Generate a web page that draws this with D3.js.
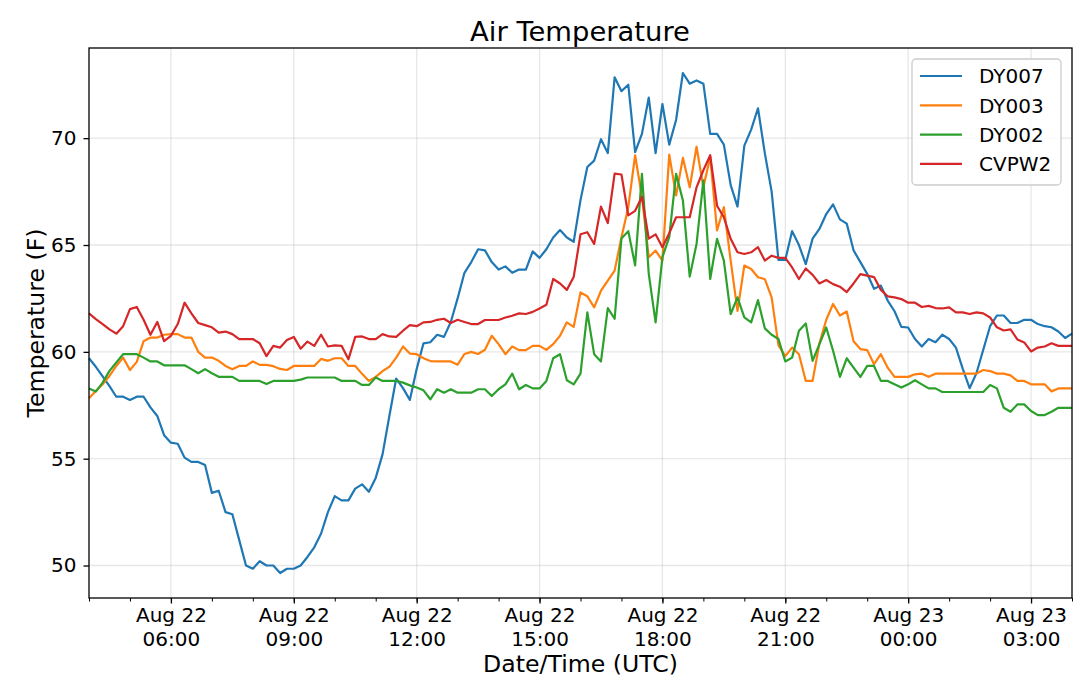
<!DOCTYPE html>
<html>
<head>
<meta charset="utf-8">
<script src="https://cdn.jsdelivr.net/npm/d3@7"></script>
<style>
  body { margin: 0; background: #fff; }
  text { font-family: "DejaVu Sans", sans-serif; fill: #000; }
</style>
</head>
<body>
<svg id="chart" width="1080" height="687"></svg>
<script>
// readings every 10 minutes, starting Aug 22 04:00 UTC
const startTime = Date.UTC(2019, 7, 22, 4, 0);
const stepMinutes = 10;

const stations = ["DY007", "DY003", "DY002", "CVPW2"];
const colors = ["#1f77b4", "#ff7f0e", "#2ca02c", "#d62728"];

const dy007 = [
  59.7, 59.3, 58.85, 58.4, 57.9, 57.9, 57.75, 57.9, 57.9, 57.4,
  57.0, 56.1, 55.75, 55.7, 55.05, 54.85, 54.85, 54.7, 53.4, 53.5,
  52.5, 52.4, 51.2, 50.0, 49.85, 50.2, 50.0, 50.0, 49.65, 49.85,
  49.85, 50.0, 50.4, 50.85, 51.5, 52.5, 53.25, 53.05, 53.05, 53.6,
  53.8, 53.45, 54.1, 55.2, 57.0, 58.75, 58.3, 57.75, 59.2, 60.4,
  60.45, 60.8, 60.7, 61.4, 62.5, 63.7, 64.2, 64.8, 64.75, 64.2,
  63.85, 64.0, 63.7, 63.85, 63.85, 64.7, 64.4, 64.8, 65.35, 65.7,
  65.35, 65.15, 67.1, 68.65, 68.95, 69.95, 69.3, 72.85, 72.2, 72.5,
  69.35, 70.2, 71.9, 69.3, 71.6, 69.7, 70.85, 73.05, 72.55, 72.7,
  72.55, 70.2, 70.2, 69.7, 67.8, 66.8, 69.65, 70.4, 71.4, 69.3,
  67.5, 64.3, 64.3, 65.65, 65.0, 64.1, 65.3, 65.75, 66.45, 66.9,
  66.2, 66.0, 64.75, 64.2, 63.65, 62.95, 63.1, 62.4, 61.9, 61.17,
  61.14, 60.6, 60.25, 60.6, 60.45, 60.8, 60.6, 60.2, 59.2, 58.3,
  59.0, 60.1, 61.2, 61.7, 61.7, 61.35, 61.35, 61.5, 61.5, 61.3,
  61.2, 61.15, 60.95, 60.65, 60.85
];

const dy003 = [
  57.83, 58.17, 58.48, 58.87, 59.34, 59.73, 59.15, 59.53, 60.5, 60.67,
  60.67, 60.8, 60.83, 60.83, 60.67, 60.67, 60.0, 59.73, 59.73, 59.58,
  59.34, 59.19, 59.34, 59.34, 59.55, 59.39, 59.39, 59.33, 59.2, 59.15,
  59.34, 59.34, 59.34, 59.34, 59.67, 59.58, 59.7, 59.7, 59.34, 59.34,
  58.97, 58.64, 58.83, 59.1, 59.3, 59.73, 60.25, 59.92, 59.89, 59.7,
  59.57, 59.55, 59.55, 59.55, 59.4, 59.9, 60.0, 59.9, 60.1, 60.75,
  60.36, 59.89, 60.25, 60.08, 60.08, 60.28, 60.28, 60.09, 60.36, 60.75,
  61.38, 61.17, 62.78, 62.6, 62.08, 62.86, 63.33, 63.8, 65.36, 66.77,
  69.2, 67.25, 64.43, 64.74, 64.27, 69.23, 67.32, 69.08, 67.7, 69.6,
  67.7, 69.12, 65.68, 66.77, 64.27, 61.92, 64.04, 63.88, 63.49, 63.4,
  62.55, 60.3, 59.8, 60.2, 59.89, 58.64, 58.64, 60.4, 61.5, 62.24,
  61.7, 61.89, 60.5, 60.13, 60.08, 59.42, 59.89, 59.26, 58.83, 58.83,
  58.83, 58.95, 58.98, 58.83, 58.98, 58.98, 58.98, 58.98, 58.98, 58.98,
  58.98, 59.15, 59.1, 58.98, 58.98, 58.9, 58.64, 58.64, 58.48, 58.48,
  58.48, 58.15, 58.29, 58.29, 58.29
];

const dy002 = [
  58.28, 58.14, 58.56, 59.11, 59.5, 59.89, 59.89, 59.89, 59.73, 59.55,
  59.55, 59.37, 59.37, 59.37, 59.37, 59.19, 59.0, 59.19, 59.0, 58.83,
  58.83, 58.83, 58.64, 58.64, 58.64, 58.64, 58.5, 58.64, 58.64, 58.64,
  58.64, 58.7, 58.8, 58.8, 58.8, 58.8, 58.8, 58.64, 58.64, 58.64,
  58.45, 58.45, 58.8, 58.64, 58.64, 58.64, 58.56, 58.43, 58.33, 58.2,
  57.78, 58.25, 58.09, 58.25, 58.09, 58.09, 58.09, 58.25, 58.25, 57.93,
  58.25, 58.48, 58.98, 58.25, 58.45, 58.29, 58.29, 58.64, 59.7, 59.89,
  58.67, 58.48, 58.98, 61.85, 59.89, 59.55, 62.05, 61.55, 65.3, 65.65,
  64.05, 68.33, 63.65, 61.38, 64.43, 65.37, 68.33, 67.08, 63.52, 65.05,
  68.03, 63.41, 65.29, 64.27, 61.77, 62.55, 61.61, 61.38, 62.42, 61.1,
  60.8, 60.6, 59.55, 59.73, 60.99, 61.33, 59.58, 60.36, 61.14, 60.05,
  58.83, 59.7, 59.26, 58.83, 59.34, 59.34, 58.64, 58.64, 58.48, 58.33,
  58.48, 58.67, 58.48, 58.29, 58.29, 58.12, 58.12, 58.12, 58.12, 58.12,
  58.12, 58.12, 58.45, 58.29, 57.38, 57.2, 57.54, 57.54, 57.23, 57.04,
  57.04, 57.2, 57.38, 57.38, 57.38
];

const cvpw2 = [
  61.8, 61.53, 61.3, 61.05, 60.85, 61.2, 62.0, 62.1, 61.5, 60.8,
  61.4, 60.5, 60.75, 61.3, 62.3, 61.8, 61.35, 61.25, 61.15, 60.9,
  60.95, 60.83, 60.6, 60.6, 60.6, 60.4, 59.8, 60.28, 60.2, 60.55,
  60.7, 60.15, 60.48, 60.28, 60.8, 60.25, 60.3, 60.28, 59.65, 60.7,
  60.72, 60.6, 60.6, 60.83, 60.72, 60.7, 60.99, 61.25, 61.2, 61.38,
  61.4, 61.5, 61.55, 61.35, 61.5, 61.4, 61.3, 61.3, 61.49, 61.49,
  61.49, 61.61, 61.69, 61.8, 61.77, 61.87, 62.03, 62.2, 63.41, 63.2,
  62.9, 63.5, 65.5, 65.6, 65.05, 66.8, 66.03, 68.34, 68.3, 66.39,
  66.6, 67.25, 65.3, 65.5, 64.9, 65.55, 66.3, 66.3, 66.3, 67.7,
  68.5, 69.2, 66.84, 66.3, 65.29, 64.66, 64.58, 64.66, 64.9, 64.27,
  64.5, 64.4, 64.4, 63.95, 63.41, 63.9, 63.6, 63.2, 63.36, 63.17,
  63.05, 62.8, 63.2, 63.64, 63.57, 63.5, 62.9, 62.6, 62.55, 62.47,
  62.3, 62.3, 62.1, 62.15, 62.05, 62.03, 62.08, 61.85, 61.85, 61.77,
  61.85, 61.8, 61.61, 61.15, 61.0, 61.05, 60.58, 60.44, 60.02, 60.2,
  60.25, 60.4, 60.28, 60.28, 60.28
];

const series = [dy007, dy003, dy002, cvpw2];
const yTicks = [50, 55, 60, 65, 70];

const svg = d3.select('#chart');
const margin = { left: 89, right: 1072, top: 48, bottom: 598 };

const times = dy007.map((_, i) => new Date(startTime + i * stepMinutes * 60000));

// x runs tight to the data, y gets matplotlib's 5% padding
const x = d3.scaleUtc()
  .domain(d3.extent(times))
  .range([margin.left, margin.right]);

const allValues = series.flat();
const lo = d3.min(allValues), hi = d3.max(allValues);
const pad = (hi - lo) * 0.05;
const y = d3.scaleLinear()
  .domain([lo - pad, hi + pad])
  .range([margin.bottom, margin.top]);

// grid
const grid = svg.append('g').attr('class', 'grid')
  .attr('stroke', '#b0b0b0').attr('stroke-opacity', 0.3).attr('stroke-width', 1.3);
grid.selectAll('.gy').data(yTicks).join('line')
  .attr('x1', margin.left).attr('x2', margin.right)
  .attr('y1', d => y(d)).attr('y2', d => y(d));
const majorTimes = x.ticks(d3.utcHour.every(3));
grid.selectAll('.gx').data(majorTimes).join('line')
  .attr('x1', d => x(d)).attr('x2', d => x(d))
  .attr('y1', margin.top).attr('y2', margin.bottom);

// lines
const line = d3.line()
  .x((d, i) => x(times[i]))
  .y(d => y(d));

svg.append('g').selectAll('path')
  .data(series)
  .join('path')
  .attr('fill', 'none')
  .attr('stroke', (d, i) => colors[i])
  .attr('stroke-width', 2.2)
  .attr('stroke-linejoin', 'round')
  .attr('d', line);

// axes
const xMinor = d3.axisBottom(x).ticks(d3.utcHour.every(1)).tickSize(3.5).tickFormat('');
svg.append('g')
  .attr('transform', `translate(0,${margin.bottom})`)
  .call(xMinor)
  .call(g => g.select('.domain').remove())
  .call(g => g.selectAll('line').attr('stroke', '#000').attr('stroke-width', 1));

const xAxis = d3.axisBottom(x).tickValues(majorTimes).tickSize(5.5).tickPadding(0)
  .tickFormat(d3.utcFormat('%b %d'));
svg.append('g')
  .attr('transform', `translate(0,${margin.bottom})`)
  .call(xAxis)
  .call(g => g.select('.domain').remove())
  .call(g => g.selectAll('line').attr('stroke', '#000').attr('stroke-width', 1.3))
  .call(g => g.selectAll('text').each(function(d) {
    const t = d3.select(this).text('').attr('dy', null).attr('y', 0)
      .attr('font-size', 20).attr('font-family', 'DejaVu Sans');
    t.append('tspan').attr('x', 0).attr('y', 24.3).text(d3.utcFormat('%b %d')(d));
    t.append('tspan').attr('x', 0).attr('y', 47.7).text(d3.utcFormat('%H:%M')(d));
  }));

const yAxis = d3.axisLeft(y).tickValues(yTicks).tickSize(5.5).tickPadding(7);
svg.append('g')
  .attr('transform', `translate(${margin.left},0)`)
  .call(yAxis)
  .call(g => g.select('.domain').remove())
  .call(g => g.selectAll('line').attr('stroke', '#000').attr('stroke-width', 1.3))
  .call(g => g.selectAll('text').attr('font-size', 20).attr('font-family', 'DejaVu Sans'));

// frame
svg.append('rect')
  .attr('x', margin.left).attr('y', margin.top)
  .attr('width', margin.right - margin.left)
  .attr('height', margin.bottom - margin.top)
  .attr('fill', 'none').attr('stroke', '#000').attr('stroke-width', 1.3);

// titles
svg.append('text')
  .attr('x', (margin.left + margin.right) / 2 - 0.5).attr('y', 41)
  .attr('text-anchor', 'middle').attr('font-size', 27.4)
  .text('Air Temperature');

svg.append('text')
  .attr('x', (margin.left + margin.right) / 2).attr('y', 672)
  .attr('text-anchor', 'middle').attr('font-size', 23.6)
  .text('Date/Time (UTC)');

svg.append('text')
  .attr('transform', `translate(44,${(margin.top + margin.bottom) / 2}) rotate(-90)`)
  .attr('text-anchor', 'middle').attr('font-size', 23.6)
  .text('Temperature (F)');

// legend
const legend = svg.append('g').attr('transform', 'translate(912,59)');
legend.append('rect')
  .attr('width', 149).attr('height', 126).attr('rx', 4)
  .attr('fill', '#fff').attr('fill-opacity', 0.8)
  .attr('stroke', '#cccccc').attr('stroke-width', 1.3);
const rows = legend.selectAll('.row').data(stations).join('g')
  .attr('transform', (d, i) => `translate(0,${17 + i * 29.3})`);
rows.append('line')
  .attr('x1', 8).attr('x2', 50)
  .attr('stroke', (d, i) => colors[i]).attr('stroke-width', 2.2);
rows.append('text')
  .attr('x', 67).attr('dy', '0.36em').attr('font-size', 20)
  .text(d => d);
</script>
</body>
</html>
